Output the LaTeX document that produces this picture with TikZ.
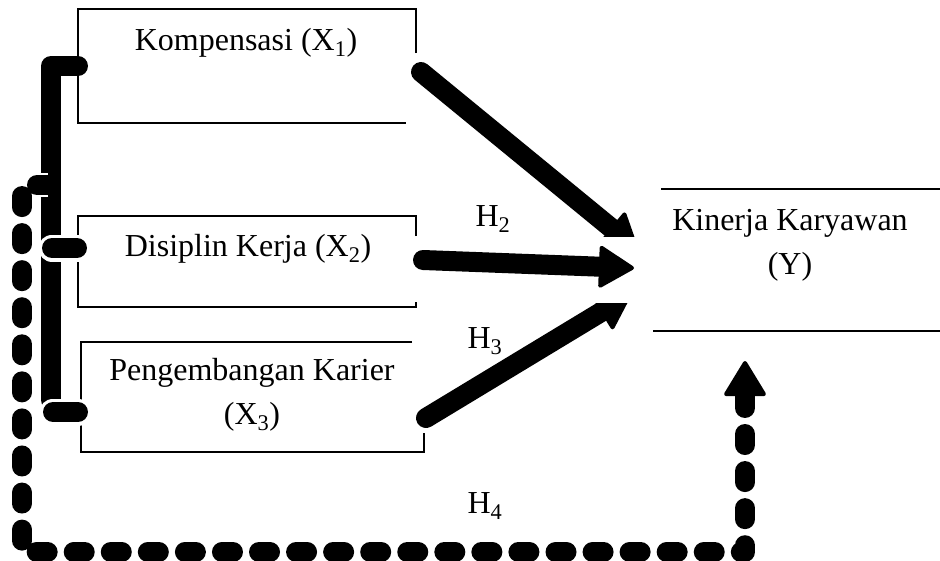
\documentclass[tikz,border=0pt]{standalone}
\usepackage{fontspec}
\setmainfont{Liberation Serif}
\usetikzlibrary{arrows.meta}
\begin{document}
\begin{tikzpicture}[x=1pt,y=-1pt,
  boxline/.style={line width=2pt},
  lbl/.style={font=\fontsize{32}{44}\selectfont, inner sep=0pt, align=center},
  emptybox/.style={inner sep=0pt, outer sep=0pt},
  bigtip/.style={-{Triangle[length=37pt,width=44pt,line width'=4pt,round]}},
  thickarrow/.style={line width=20pt, line cap=round, bigtip},
  barline/.style={line width=20pt, line cap=round, line join=round},
  dashline/.style={line width=20pt, line cap=round, line join=round, dash pattern=on 11pt off 26.06pt},
  halo/.style={white, line width=27pt, line cap=round},
]
\useasboundingbox (0,0) rectangle (940,560);
\fill[white] (0,0) rectangle (940,560);

% box frames (invisible nodes, partial borders drawn by anchors)
\node[emptybox, minimum width=338pt, minimum height=114pt] (x1box) at (247,66) {};
\node[emptybox, minimum width=338pt, minimum height=91pt] (x2box) at (247,261.5) {};
\node[emptybox, minimum width=343pt, minimum height=110pt] (x3box) at (252.5,397) {};
\node[emptybox, minimum width=287pt, minimum height=142pt] (ybox) at (796.5,260) {};

\draw[boxline] ([yshift=-44pt]x1box.north east) -- (x1box.north east) -- (x1box.north west)
  -- (x1box.south west) -- ([xshift=-10pt]x1box.south east);
\draw[boxline] ([yshift=-20pt]x2box.north east) -- (x2box.north east) -- (x2box.north west)
  -- (x2box.south west) -- (x2box.south east) -- ([yshift=5pt]x2box.south east);
\draw[boxline] ([xshift=-12pt]x3box.north east) -- (x3box.north west)
  -- (x3box.south west) -- (x3box.south east) -- ([yshift=19pt]x3box.south east);
\draw[boxline] ([xshift=8pt]ybox.north west) -- (ybox.north east);
\draw[boxline] (ybox.south west) -- (ybox.south east);

% solid left bar
\coordinate (barbot) at (51,400);
\draw[barline] (x1box.west) -| (barbot);

% stubs to X2 and X3
\coordinate (p2a) at (52,248);
\coordinate (p2b) at (77,248);
\coordinate (p3a) at (53,412);
\coordinate (p3b) at (78,412);
\draw[halo] (p2a) -- (p2b);
\draw[barline] (p2a) -- (p2b);
\draw[halo] (p3a) -- (p3b);
\draw[barline] (p3a) -- (p3b);

% dashed loop to Y
\coordinate (d0) at (48,185);
\coordinate (d1) at (22,185);
\coordinate (d2) at (22,552);
\coordinate (d3) at (745,552);
\coordinate (d4) at (745,361);
\draw[white, line width=24pt] (d0) -- (d1);
\draw[dashline, bigtip] (d0) -- (d1) -- (d2) -- (d3) -- (d4);

% thick arrows
\coordinate (a1s) at (421,72);
\coordinate (a1e) at (638,250);
\coordinate (a2s) at (423,260);
\coordinate (a2e) at (634,268);
\coordinate (a3s) at (426,418);
\coordinate (a3e) at (631,294);
\draw[thickarrow] (a1s) -- (a1e);
\draw[thickarrow] (a3s) -- (a3e);
\fill[white] (588,237) rectangle (660,303);
\draw[thickarrow] (a2s) -- (a2e);

% texts
\node[lbl, anchor=base] (t1) at (246,50) {Kompensasi (X\textsubscript{1})};
\node[lbl, anchor=base] (t2) at (248,256) {Disiplin Kerja (X\textsubscript{2})};
\node[lbl] (t3) at (252,395) {Pengembangan Karier\\(X\textsubscript{3})};
\node[lbl] (ty) at (790,245) {Kinerja Karyawan\\(Y)};
\node[lbl, anchor=base] (h2) at (493,226) {H\textsubscript{2}};
\node[lbl, anchor=base] (h3) at (485,348) {H\textsubscript{3}};
\node[lbl, anchor=base] (h4) at (485,513) {H\textsubscript{4}};
\end{tikzpicture}
\end{document}
